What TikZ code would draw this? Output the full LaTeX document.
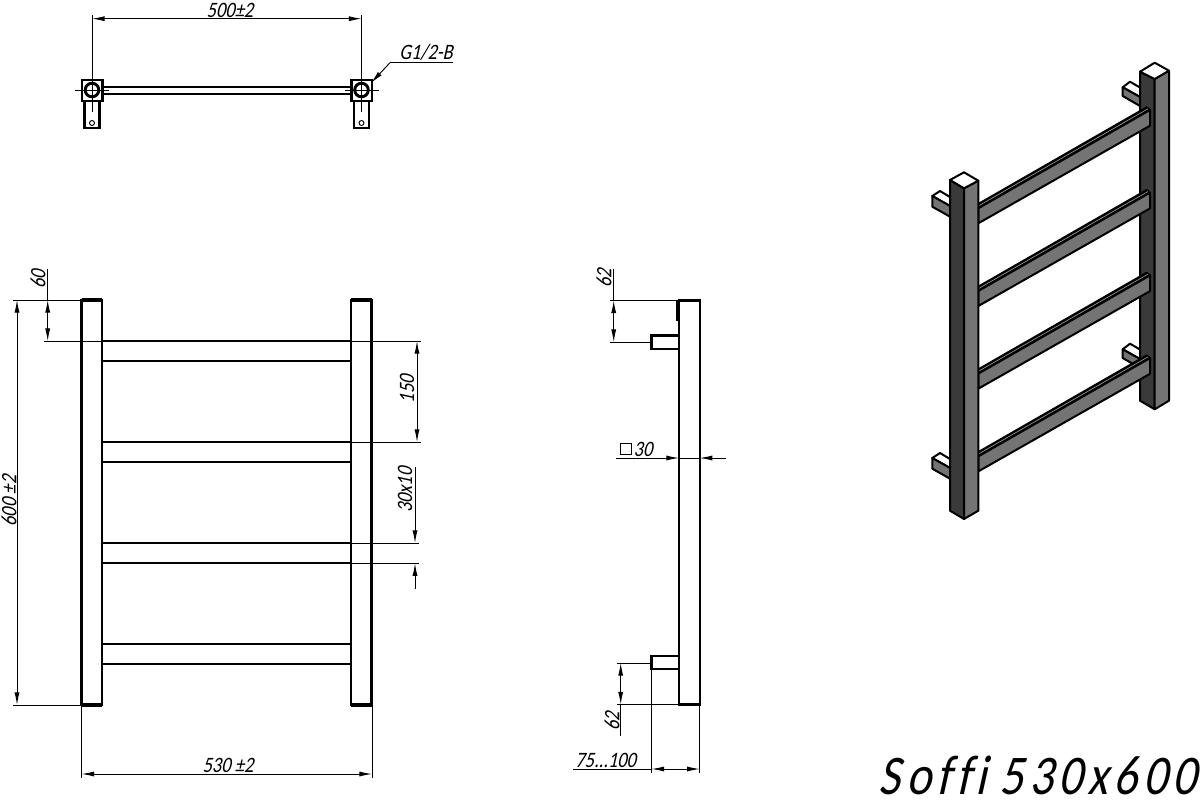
\documentclass[tikz,border=0pt]{standalone}
\usepackage{fontspec}
\newfontfamily\dimfont{Carlito}[FakeStretch=.84,FakeSlant=.22,Ligatures=NoCommon]
\newfontfamily\titlefont{Carlito}[FakeStretch=.84,FakeSlant=.22,Ligatures=NoCommon,LetterSpace=10]
\usetikzlibrary{arrows.meta}
\tikzset{
  outline/.style={line width=1.6pt, line join=miter},
  thinline/.style={line width=.7pt},
  dimline/.style={thinline, {Latex[length=9.5pt,width=3.8pt]}-{Latex[length=9.5pt,width=3.8pt]}},
  dimtip/.style={thinline, -{Latex[length=9.5pt,width=3.8pt]}},
  dimtext/.style={font=\dimfont\fontsize{16.5}{18}\selectfont, inner sep=0pt},
  isoedge/.style={line width=1.5pt, line join=round},
}
\definecolor{darkface}{HTML}{3A3A3A}
\definecolor{lightface}{HTML}{747474}
\begin{document}
\begin{tikzpicture}[x=.75pt, y=-.75pt]
\useasboundingbox (0,0) rectangle (1200,800);

% top view
\foreach \cx in {92,361.5}{
  \draw[outline] (\cx-10,80) rectangle (\cx+10.5,101);
  \draw[outline] (\cx-7.5,101) -- (\cx-7.5,128) -- (\cx+7.5,128) -- (\cx+7.5,101);
  \draw[line width=2.2pt] (\cx,90) circle (6.8);
  \draw[thinline] (\cx,123) circle (2.5);
  \draw[thinline] (\cx-17,90) -- (\cx+17,90);
  \draw[thinline] (\cx,15) -- (\cx,112);
}
\draw[outline] (102.5,86.7) -- (351,86.7) (102.5,93.7) -- (351,93.7);
\draw[dimline] (92,18.7) -- (361.5,18.7);
\node[dimtext] (widthtop) at (230,10) {500±2};
\draw[dimtip] (390,62.7) -- (371,83);
\draw[thinline] (453,62.7) -- (390,62.7);
\node[dimtext] (thread) at (426,52) {G1/2-B};

% front view
\foreach \cx in {81.5,351}{
  \draw[outline] (\cx,300) rectangle (\cx+20.5,705);
  \draw[line width=2.6pt] (\cx,300) -- (\cx+20.5,300) (\cx,705) -- (\cx+20.5,705);
}
\foreach \ry in {341,442,543,644}
  \draw[outline] (102,\ry) -- (351,\ry) (102,\ry+20.3) -- (351,\ry+20.3);
\draw[thinline] (13,300) -- (82,300) (13,705) -- (82,705);
\draw[thinline] (44,341) -- (421,341) (351,442) -- (421,442);
\draw[thinline] (351,543) -- (419,543) (351,563.3) -- (419,563.3);
\draw[dimline] (17,300) -- (17,705);
\node[dimtext, rotate=90] (heighttxt) at (9,501) {600 ±2};
\draw[thinline] (47.7,269) -- (47.7,300);
\draw[dimline] (47.7,300) -- (47.7,341);
\node[dimtext, rotate=90] (topgap) at (38,279) {60};
\draw[dimline] (417,341) -- (417,442);
\node[dimtext, rotate=90] (railpitch) at (407,389) {150};
\draw[dimtip] (415,467) -- (415,543);
\draw[dimtip] (415,589) -- (415,563.3);
\node[dimtext, rotate=90] (railsize) at (405,490) {30x10};
\draw[thinline] (81.5,705) -- (81.5,778) (372,705) -- (372,778);
\draw[dimline] (81.5,774) -- (372,774);
\node[dimtext] (widthbot) at (228,765) {530 ±2};

% side view
\draw[outline] (679,300.5) rectangle (699.7,704.5);
\draw[line width=2.6pt] (679,300.5) -- (699.7,300.5) (679,704.5) -- (699.7,704.5);
\draw[line width=1.8pt] (677.5,301) -- (677.5,321);
\draw[outline] (679,335.5) -- (651.5,335.5) -- (651.5,349) -- (679,349);
\draw[outline] (679,655.7) -- (651.5,655.7) -- (651.5,669) -- (679,669);
\draw[thinline] (610,300.5) -- (679,300.5) (610,342) -- (651,342);
\draw[thinline] (617,663) -- (651,663) (617,704.5) -- (679,704.5);
\draw[thinline] (613.7,269) -- (613.7,300.5);
\draw[dimline] (613.7,300.5) -- (613.7,342);
\node[dimtext, rotate=90] (sidetop) at (604,278) {62};
\draw[dimline] (620.7,663) -- (620.7,704.5);
\draw[thinline] (620.7,704.5) -- (620.7,735.7);
\node[dimtext, rotate=90] (sidebot) at (612,721) {62};
\draw[dimtip] (616,458) -- (679,458);
\draw[dimtip] (726,458) -- (699.7,458);
\draw[thinline] (679,458) -- (699.7,458);
\draw[thinline] (620,443) rectangle (631,454.5);
\node[dimtext] (tubesize) at (643,449) {30};
\draw[thinline] (651.5,669) -- (651.5,772.7) (699.7,705) -- (699.7,772.7);
\draw[thinline] (573,769) -- (651.5,769);
\draw[dimline] (651.5,769) -- (699.7,769);
\node[dimtext] (wallgap) at (605.7,760) {75...100};

% iso view
\foreach \by in {0,262}{
  \draw[isoedge, fill=white] (932.3,196+\by) -- (940,191+\by) -- (950,197+\by) -- (950,206+\by) -- cycle;
  \draw[isoedge, fill=lightface] (932.3,196+\by) -- (950,206+\by) -- (950,216.7+\by) -- (932.3,206.7+\by) -- cycle;
  \draw[isoedge, fill=white] (1122.7,87.3+\by) -- (1130,81.7+\by) -- (1140,87.5+\by) -- (1140,97+\by) -- cycle;
  \draw[isoedge, fill=lightface] (1122.7,87.3+\by) -- (1140,97+\by) -- (1140,106+\by) -- (1122.7,96+\by) -- cycle;
}
% right post
\draw[isoedge, fill=darkface] (1140,71.7) -- (1154.7,79) -- (1154.7,409.3) -- (1140,400.7) -- cycle;
\draw[isoedge, fill=lightface] (1154.7,79) -- (1169,70.7) -- (1169,400.7) -- (1154.7,409.3) -- cycle;
\draw[isoedge, fill=white] (1140,71.7) -- (1154.7,62.7) -- (1169,70.7) -- (1154.7,79) -- cycle;
% rails
\foreach \ry in {0,82.7,165.4,248.1}{
  \draw[isoedge, fill=black] (978.3,204+\ry) -- (1146.7,107.3+\ry) -- (1150,110+\ry) -- (978.3,208.3+\ry) -- cycle;
  \draw[line width=.5pt, white!60!black] (978.3,206+\ry) -- (1148,108.8+\ry);
  \draw[isoedge, fill=lightface] (978.3,208.3+\ry) -- (1150,110+\ry) -- (1150,125.7+\ry) -- (978.3,223.3+\ry) -- cycle;
}
% left post
\draw[isoedge, fill=darkface] (950,180) -- (964,188.3) -- (964,519) -- (950,510.7) -- cycle;
\draw[isoedge, fill=lightface] (964,188.3) -- (978.3,180.7) -- (978.3,510.7) -- (964,519) -- cycle;
\draw[isoedge, fill=white] (950,180) -- (964,172.3) -- (978.3,180.7) -- (964,188.3) -- cycle;

\node[font=\titlefont\fontsize{42}{44}\selectfont, inner sep=0pt, anchor=base east] (title) at (1197,794) {Soffi\hspace{-.06em} 530x600};
\end{tikzpicture}
\end{document}
